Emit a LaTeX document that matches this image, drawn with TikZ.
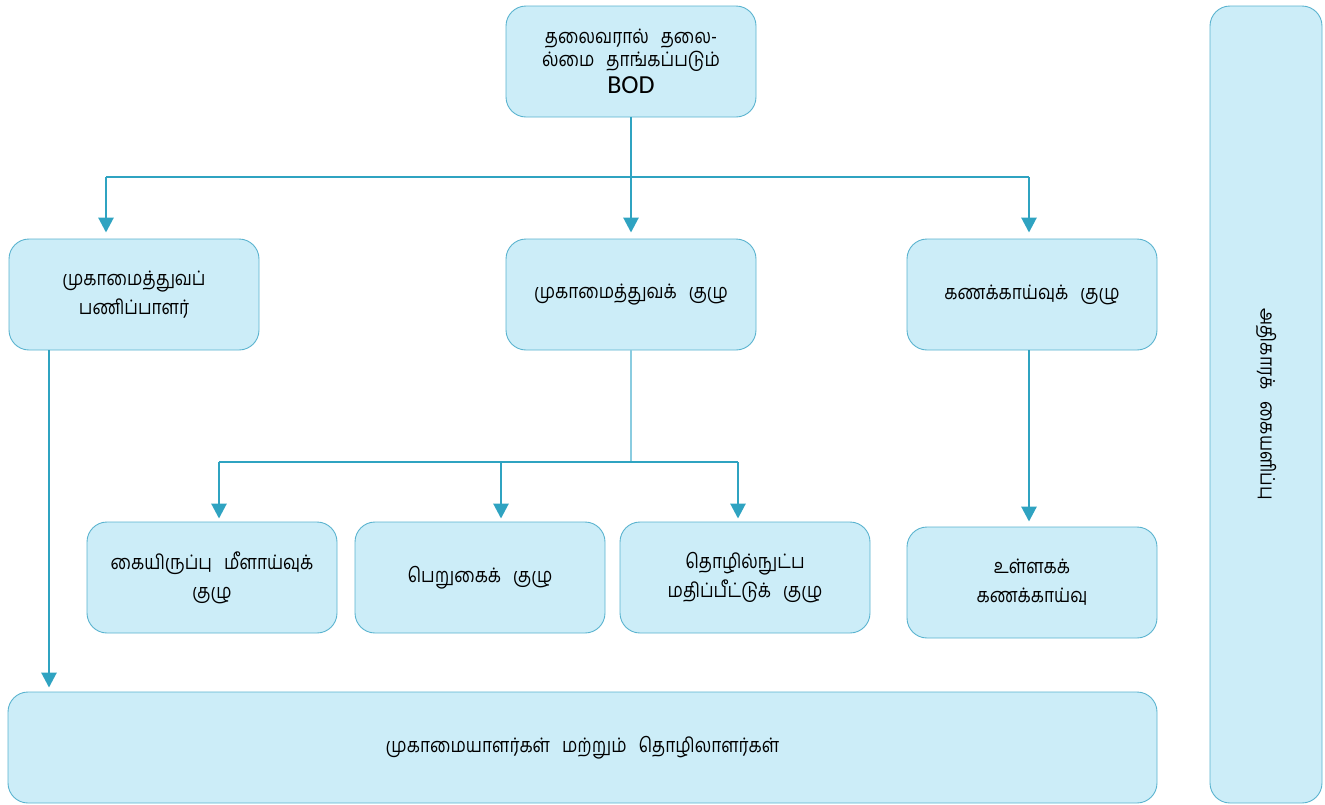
\documentclass[tikz,border=0pt]{standalone}
\usepackage{fontspec}
\newfontfamily\tamil[Script=Tamil, FakeStretch=0.86]{Hind Madurai}
\newfontfamily\latinsans{Carlito}
\usetikzlibrary{arrows.meta}
\definecolor{boxfill}{HTML}{CCEDF8}
\definecolor{boxline}{HTML}{5AB3CF}
\definecolor{arrcol}{HTML}{2FA3C1}
\definecolor{thinline}{HTML}{8ACCE0}
\newcommand\gp{\hspace{0.6em}}
\tikzset{
  orgbox/.style={draw=boxline, fill=boxfill, line width=0.9pt, rounded corners=20pt,
    minimum width=250pt, minimum height=111pt, align=center, inner sep=0pt,
    font=\tamil\fontsize{20}{29}\selectfont, text=black},
  arr/.style={draw=arrcol, line width=2.8pt, -{Triangle[width=15pt,length=15pt]}},
  hline/.style={draw=arrcol, line width=1.5pt},
  lightline/.style={draw=thinline, line width=1.2pt}
}
\begin{document}
\begin{tikzpicture}[x=1pt,y=-1pt]
\useasboundingbox (0,0) rectangle (1325,804);
% boxes
\node[orgbox, font=\tamil\fontsize{20}{23}\selectfont] (bod) at (631,61.5) {தலைவரால்\gp தலை-\\ல்மை\gp தாங்கப்படும்\\[4pt]{\latinsans\fontsize{26}{26}\selectfont BOD}};
\node[orgbox] (ms) at (134,294.5) {முகாமைத்துவப்\\பணிப்பாளர்};
\node[orgbox] (mc) at (631,294.5) {முகாமைத்துவக்\gp குழு};
\node[orgbox] (ac) at (1032,294.5) {கணக்காய்வுக்\gp குழு};
\node[orgbox] (cr) at (212,577.5) {கையிருப்பு\gp மீளாய்வுக்\\குழு};
\node[orgbox] (rv) at (480,577.5) {பெறுகைக்\gp குழு};
\node[orgbox] (te) at (745,577.5) {தொழில்நுட்ப\\மதிப்பீட்டுக்\gp குழு};
\node[orgbox] (ia) at (1032,582.5) {உள்ளகக்\\கணக்காய்வு};
\node[orgbox, minimum width=1149pt] (bot) at (582.5,747.5) {முகாமையாளர்கள்\gp மற்றும்\gp தொழிலாளர்கள்};
\node[orgbox, rotate=-90, minimum width=797pt, minimum height=112pt] (side) at (1266,404.5) {அதிகாரக்\gp கையளிப்பு};
% top connectors
\coordinate (h1) at (631,177);
\coordinate (aL) at (106,177);
\coordinate (aR) at (1029,177);
\draw[hline] (aL) -- (aR);
\draw[arr, shorten >=6pt] (bod.south) -- (mc.north);
\draw[arr, shorten >=6pt] (aL) -- (aL |- ms.north);
\draw[arr, shorten >=6pt] (aR) -- (aR |- ac.north);
% left long arrow
\coordinate (lx) at (49,0);
\draw[arr, shorten >=4pt] (lx |- ms.south) -- (lx |- bot.north);
% middle tree
\coordinate (h2) at (631,462);
\coordinate (b1) at (219,462);
\coordinate (b2) at (501,462);
\coordinate (b3) at (738,462);
\draw[lightline] (mc.south) -- (h2);
\draw[hline] (b1) -- (b3);
\draw[arr, shorten >=3pt] (b1) -- (b1 |- cr.north);
\draw[arr, shorten >=3pt] (b2) -- (b2 |- rv.north);
\draw[arr, shorten >=3pt] (b3) -- (b3 |- te.north);
% audit arrow
\coordinate (ax) at (1029,0);
\draw[arr, shorten >=5pt] (ax |- ac.south) -- (ax |- ia.north);
\end{tikzpicture}
\end{document}
